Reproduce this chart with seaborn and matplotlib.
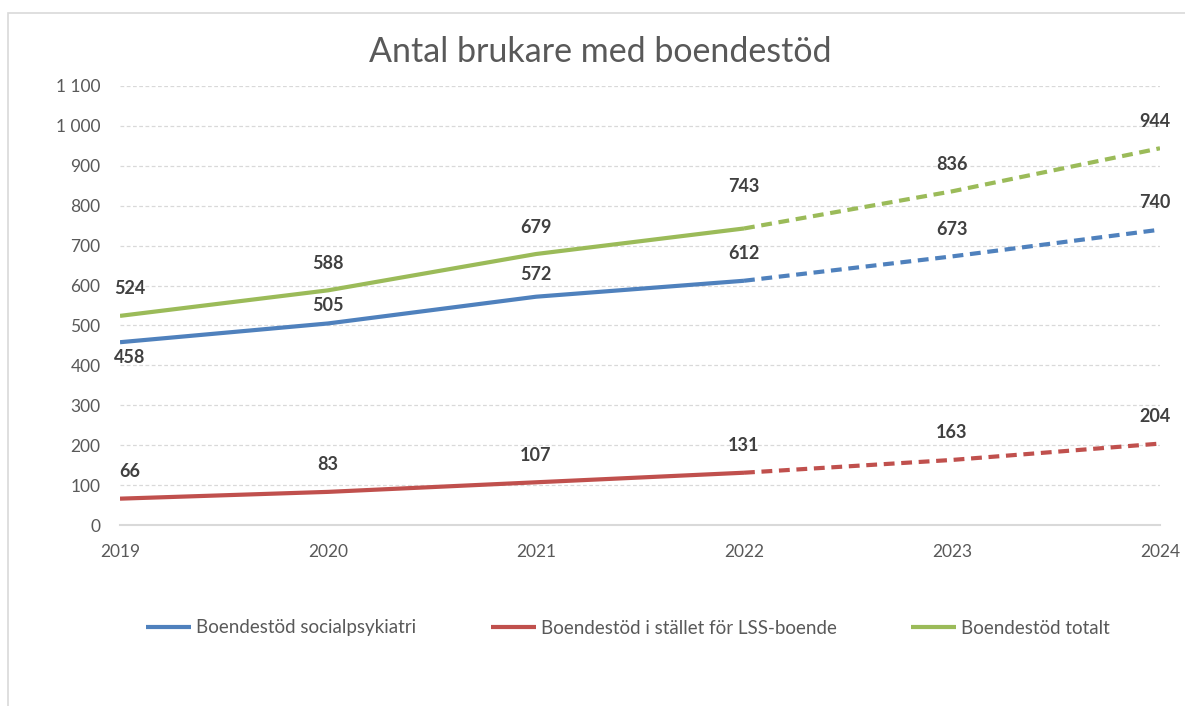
import matplotlib
matplotlib.use("Agg")
import matplotlib.pyplot as plt
import matplotlib.patches as mpatches
from matplotlib.lines import Line2D
import seaborn as sns
import pandas as pd

# ---- data ----
years = ["2019", "2020", "2021", "2022", "2023", "2024"]
series_names = ["Boendestöd socialpsykiatri",
                "Boendestöd i stället för LSS-boende",
                "Boendestöd totalt"]
socialpsykiatri = [458, 505, 572, 612, 673, 740]
lss = [66, 83, 107, 131, 163, 204]
totalt = [524, 588, 679, 743, 836, 944]
last_actual = 3  # index of 2022: solid up to here, dashed after
y_ticks = [0, 100, 200, 300, 400, 500, 600, 700, 800, 900, 1000, 1100]
title = "Antal brukare med boendestöd"

values = [socialpsykiatri, lss, totalt]
colors = ["#4F81BD", "#C0504D", "#9BBB59"]

rows = []
for name, vals in zip(series_names, values):
    for i, v in enumerate(vals):
        if i <= last_actual:
            rows.append({"serie": name, "x": i, "värde": v, "del": "utfall"})
        if i >= last_actual:
            rows.append({"serie": name, "x": i, "värde": v, "del": "prognos"})
df = pd.DataFrame(rows)

sns.set_theme(style="white")
plt.rcParams["font.family"] = ["Lato", "DejaVu Sans"]

fig = plt.figure(figsize=(11.85, 7.06), dpi=100)
ax = fig.add_axes([120 / 1185, 1 - 525 / 706, 1040 / 1185, 439 / 706])

sns.lineplot(data=df, x="x", y="värde", hue="serie", style="del",
             palette=dict(zip(series_names, colors)),
             dashes={"utfall": "", "prognos": (2.6, 1.6)},
             hue_order=series_names, linewidth=3.0, ax=ax, legend=False,
             estimator=None, sort=True)
for ln in ax.lines:
    ln.set_solid_capstyle("butt")
    ln.set_dash_capstyle("butt")

ax.set_xlim(0, len(years) - 1)
ax.set_ylim(0, 1100)
ax.set_xticks(range(len(years)))
ax.set_xticklabels(years)
ax.set_yticks(y_ticks)
ax.set_yticklabels([f"{t:,}".replace(",", " ") for t in y_ticks])
ax.tick_params(axis="both", labelsize=12.5, colors="#595959", length=0)
ax.tick_params(axis="y", pad=14)
ax.tick_params(axis="x", pad=14)
ax.set_xlabel("")
ax.set_ylabel("")
for sp in ["top", "right", "left"]:
    ax.spines[sp].set_visible(False)
ax.spines["bottom"].set_color("#D9D9D9")
ax.spines["bottom"].set_linewidth(1.5)
ax.grid(axis="y", color="#D9D9D9", linestyle=(0, (3, 2)), linewidth=0.9)
ax.grid(axis="x", visible=False)
ax.set_axisbelow(True)

# data labels
default_offset = 27
offset_adj = {(0, 0): -15, (0, 1): 18, (0, 2): 22, (2, 3): 42}
for s, vals in enumerate(values):
    for i, v in enumerate(vals):
        dy = offset_adj.get((s, i), default_offset)
        dx = 10 if i == 0 else (-5 if i == len(years) - 1 else 0)
        ax.annotate(str(v), (i, v), xytext=(dx, dy), textcoords="offset pixels",
                    ha="center", va="center", fontsize=13, fontweight="bold",
                    color="#404040", annotation_clip=False)

fig.text(600 / 1185, 1 - 52 / 706, title, ha="center", va="center",
         fontsize=24.5, color="#595959")

handles = [Line2D([0], [0], color=c, lw=3.0, solid_capstyle="butt") for c in colors]
fig.legend(handles, series_names, loc="center", bbox_to_anchor=(628 / 1185, 1 - 628 / 706),
           ncol=3, frameon=False, fontsize=13.5, handlelength=2.4, handletextpad=0.25,
           columnspacing=4.0, labelcolor="#595959")

# chart border
fig.patches.append(mpatches.Rectangle((8 / 1185, -0.05), 1.2, 1 - 13 / 706 + 0.05,
                                      transform=fig.transFigure, fill=False,
                                      edgecolor="#D9D9D9", linewidth=1.2))

fig.savefig("out.png", dpi=100)
